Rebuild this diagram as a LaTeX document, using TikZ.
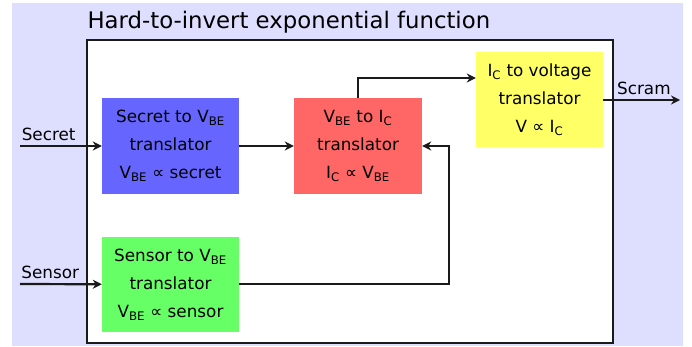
\documentclass[tikz,border=0pt]{standalone}
\usepackage{fontspec}
\setmainfont{DejaVu Sans}
\usetikzlibrary{arrows.meta,positioning}
\definecolor{lavender}{HTML}{DEDEFF}
\definecolor{boxblue}{HTML}{6666FF}
\definecolor{boxred}{HTML}{FF6666}
\definecolor{boxyellow}{HTML}{FFFF66}
\definecolor{boxgreen}{HTML}{66FF66}
\definecolor{edge}{HTML}{1A1A1A}
\begin{document}
\begin{tikzpicture}[x=1pt, y=-1pt, line join=miter, >={Stealth[length=9pt,width=9pt]}, font=\fontsize{16.8}{28}\selectfont]
			\tikzset{block/.style={minimum width=137pt, minimum height=96pt, inner sep=0pt, align=center, text=black},
				flow/.style={line width=2.2pt, draw=edge, ->}}
			\useasboundingbox (0,0) rectangle (692,347);
			\fill[lavender] (12,3) rectangle (683,346);
			\draw[line width=2.2pt, draw=edge, fill=white] (87,40) rectangle (613,343);
			\node[anchor=base west, font=\fontsize{22.8}{26}\selectfont] (title) at (84,29) {Hard-to-invert exponential function};
			% blocks
			\node[block, fill=boxblue] (secretvbe) at (170.5,146) {Secret to V\textsubscript{BE}\\ translator\\ V\textsubscript{BE} ∝ secret};
			\node[block, fill=boxred, minimum width=128pt] (vbeic) at (358,146) {V\textsubscript{BE} to I\textsubscript{C}\\ translator\\ I\textsubscript{C} ∝ V\textsubscript{BE}};
			\node[block, fill=boxyellow, minimum width=127pt, minimum height=95pt] (icv) at (539.5,99.5) {I\textsubscript{C} to voltage\\ translator\\ V ∝ I\textsubscript{C}};
			\node[block, fill=boxgreen, minimum height=95pt] (sensorvbe) at (170.5,284.5) {Sensor to V\textsubscript{BE}\\ translator\\ V\textsubscript{BE} ∝ sensor};
			% inputs and output
			\coordinate (secretin) at (20,146);
			\coordinate (sensorin) at (20,284);
			\coordinate (scramout) at (680,100);
			\draw[flow] (secretin) -- node[pos=0.35, above=1pt] (secretlbl) {Secret} (secretvbe);
			\draw[flow] (sensorin) -- node[pos=0.37, above=1pt] (sensorlbl) {Sensor} (sensorvbe);
			\draw[flow] (icv.east |- scramout) -- node[pos=0.53, above=1pt] (scramlbl) {Scram} (scramout);
			% internal connections
			\draw[flow] (secretvbe) -- (vbeic);
			\draw[flow] (vbeic.north) |- (icv.west |- 0,78);
			\draw[flow] (sensorvbe.east |- sensorin) -| (449,146) -- (vbeic.east);
		\end{tikzpicture}
\end{document}
